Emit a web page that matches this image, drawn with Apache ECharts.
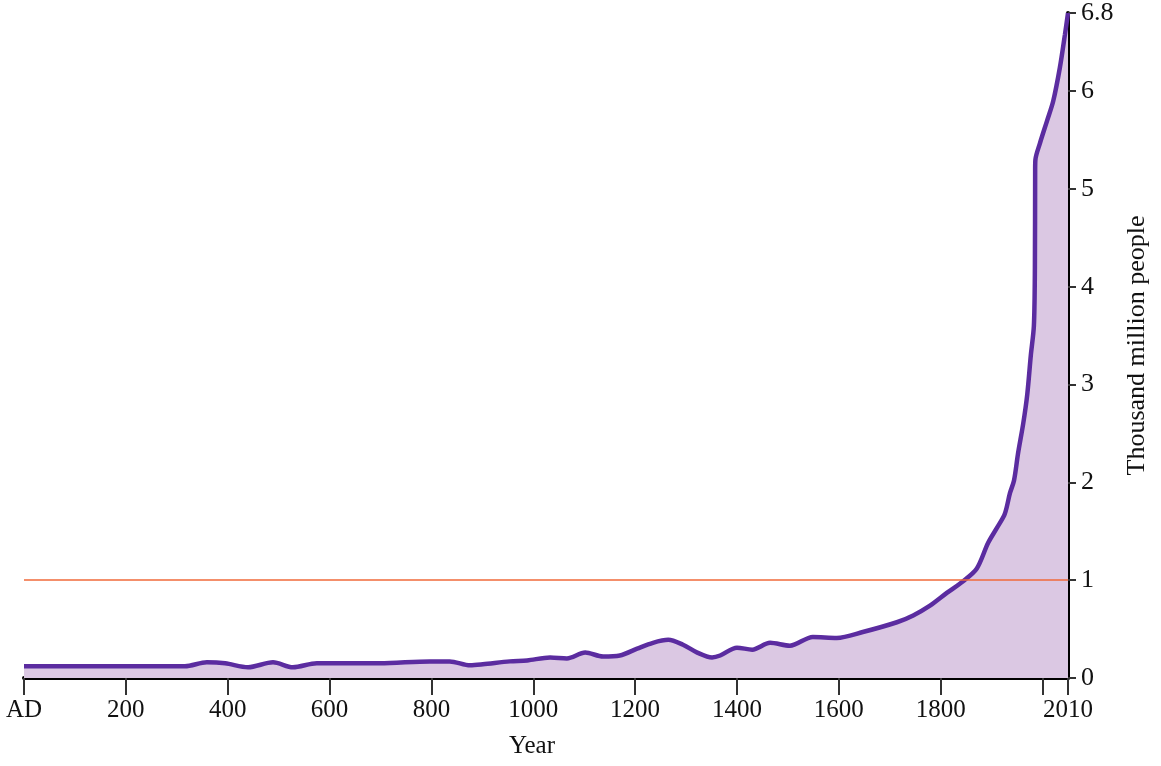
<!DOCTYPE html>
<html>
<head>
<meta charset="utf-8">
<style>
  html, body { margin: 0; padding: 0; background: #fff; }
  #chart { width: 1161px; height: 766px; }
</style>
<script src="https://cdn.jsdelivr.net/npm/echarts@6/dist/echarts.min.js"></script>
</head>
<body>
<div id="chart"></div>
<script>
// x positions (its time scale is stretched at the right end)
var years = [0, 316, 359, 395, 440, 489, 528, 575, 699, 797, 836, 876, 901, 954, 988,
  1033, 1066, 1102, 1137, 1170, 1204, 1235, 1265, 1294, 1322, 1351, 1367, 1400, 1430,
  1465, 1504, 1549, 1596, 1647, 1714, 1746, 1779, 1812, 1844, 1871, 1893, 1911, 1926,
  1936, 1944, 1952, 1962, 1970, 1977, 1983, 1985, 1985.5, 1986, 1995, 2009, 2021, 2034,
  2044, 2050];
// world population, thousand million
var people = [0.12, 0.12, 0.16, 0.15, 0.11, 0.16, 0.11, 0.15, 0.15, 0.17, 0.17, 0.13, 0.14,
  0.17, 0.18, 0.21, 0.20, 0.26, 0.22, 0.23, 0.30, 0.36, 0.39, 0.34, 0.26, 0.21, 0.23, 0.31,
  0.29, 0.36, 0.33, 0.42, 0.41, 0.47, 0.57, 0.64, 0.74, 0.87, 0.99, 1.12, 1.38, 1.54, 1.68,
  1.89, 2.02, 2.3, 2.6, 2.9, 3.3, 3.6, 4.2, 5.2, 5.3, 5.47, 5.7, 5.9, 6.24, 6.58, 6.8];
var xEnd = 2050;      // right end of the time axis, labelled 2010
var yMax = 6.8;
var referenceLevel = 1;

var chart = echarts.init(document.getElementById('chart'));

var points = years.map(function (y, i) { return [y, people[i]]; });

var serif = 'Liberation Serif';

var option = {
  animation: false,
  grid: { left: 24, right: 93, top: 12, bottom: 88, containLabel: false },
  xAxis: {
    type: 'value',
    min: 0,
    max: xEnd,
    interval: 200,
    name: 'Year',
    nameLocation: 'middle',
    nameGap: 56,
    nameTextStyle: { fontFamily: serif, fontSize: 25, color: '#111', padding: [0, 28, 0, 0] },
    axisLine: { onZero: false, lineStyle: { color: '#000', width: 4 } },
    axisTick: { length: 17, lineStyle: { color: '#333', width: 2 } },
    splitLine: { show: false },
    axisLabel: {
      margin: 20,
      fontFamily: serif,
      fontSize: 25,
      color: '#111',
      showMinLabel: true,
      showMaxLabel: true,
      formatter: function (v) {
        if (v === 0) return 'AD';
        if (v === xEnd) return '2010';
        if (v === 2000) return '';
        return String(v);
      }
    }
  },
  yAxis: {
    type: 'value',
    position: 'right',
    min: 0,
    max: yMax,
    interval: 1,
    name: 'Thousand million people',
    nameLocation: 'middle',
    nameRotate: 90,
    nameGap: 48,
    nameTextStyle: { fontFamily: serif, fontSize: 26, color: '#111' },
    axisLine: { show: true, onZero: false, lineStyle: { color: '#000', width: 4 } },
    axisTick: { show: true, length: 8, lineStyle: { color: '#333', width: 2 } },
    splitLine: { show: false },
    axisLabel: {
      margin: 13,
      fontFamily: serif,
      fontSize: 26,
      color: '#111',
      showMaxLabel: true,
      formatter: function (v) { return v === yMax ? '6.8' : String(v); }
    }
  },
  series: [
    {
      type: 'line',
      data: points,
      showSymbol: false,
      smooth: 0.3,
      lineStyle: { color: '#5b2ca0', width: 4.5 },
      areaStyle: { color: '#dbc8e3', opacity: 1 },
      z: 2,
      markLine: {
        silent: true,
        symbol: 'none',
        label: { show: false },
        lineStyle: { color: '#f06a3a', width: 1.5, type: 'solid' },
        data: [{ yAxis: referenceLevel }],
        z: 3
      }
    }
  ]
};

chart.setOption(option);
</script>
</body>
</html>
